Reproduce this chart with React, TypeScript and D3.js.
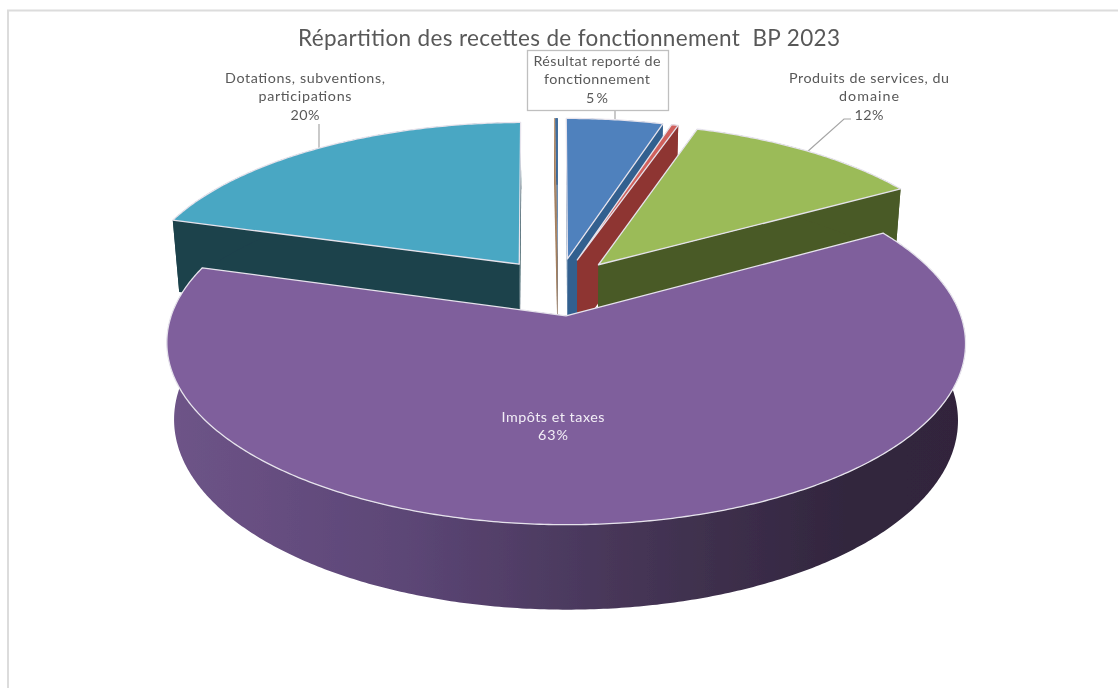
import React from "react";
import * as d3 from "d3";

const titleText = "Répartition des recettes de fonctionnement\u00a0\u00a0BP 2023";
const categories = ["Résultat reporté", "Autres produits", "Produits de services", "Impôts et taxes", "Dotations", "Atténuations", "Produits exceptionnels"];
const shares = [4.72, 0.33, 11.6, 62.9, 20.28, 0.05, 0.12];
const topColors = ["#4f81bd", "#d0605c", "#9bbb59", "#7f5f9c", "#4aa7c3", "#c9a27e", "#3f6c9c"];
const wallColors = ["#33608f", "#8e3633", "#4a5a27", "#4a3a60", "#1c424c", "#a5805f", "#2f5a88"];
const labelLines = [
  ["Résultat reporté de", "fonctionnement", "5%"],
  ["Produits de services, du", "domaine", "12%"],
  ["Impôts et taxes", "63%"],
  ["Dotations, subventions,", "participations", "20%"],
];

const W = 1118, H = 688;
const x0 = 558, y0 = 286.6, A = 385, B = 168.7, P = 0.147, E = 0.17, Q = 0.018, D = 76.2;
const TAU = Math.PI * 2;

const pieGen = d3.pie<number>().sort(null).value((d) => d).startAngle(0).endAngle(TAU);
const arcs = pieGen(shares);

function project(u: number, v: number, bottom: boolean): [number, number] {
  const w = 1 - P * v + (bottom ? Q : 0);
  return [x0 + (A * u) / w, y0 + (B * v + (bottom ? D : 0)) / w];
}
const closed = d3.line().curve(d3.curveLinearClosed);

function geometry(a: d3.PieArcDatum<number>) {
  const mid = (a.startAngle + a.endAngle) / 2;
  const cu = E * Math.sin(mid), cv = -E * Math.cos(mid);
  const n = Math.max(2, Math.ceil((a.endAngle - a.startAngle) / 0.01));
  const angles = d3.range(n + 1).map((i) => a.startAngle + ((a.endAngle - a.startAngle) * i) / n);
  const rimW = angles.map((t) => [cu + Math.sin(t), cv - Math.cos(t)] as [number, number]);
  const topRim = rimW.map(([u, v]) => project(u, v, false));
  const botRim = rimW.map(([u, v]) => project(u, v, true));
  const apexT = project(cu, cv, false), apexB = project(cu, cv, true);
  return {
    top: [apexT, ...topRim],
    rimWall: [...topRim, ...botRim.slice().reverse()],
    wallStart: [apexT, topRim[0], botRim[0], apexB],
    wallEnd: [apexT, topRim[n], botRim[n], apexB],
  };
}

const drawOrder = [6, 5, 4, 0, 1, 2, 3];

const gradientStops: [number, string][] = [
  [0, "#6e5488"],
  [0.3, "#5c4676"],
  [0.6, "#443454"],
  [0.85, "#32263e"],
  [1, "#30243b"],
];

const sans = "Lato, 'Open Sans', sans-serif";
const grey = "#595959";

function Label({ x, y, lines, size = 14.3, lh = 18.3, fill = grey, len }: { x: number; y: number; lines: string[]; size?: number; lh?: number; fill?: string; len?: number[] }) {
  return (
    <text x={x} y={y} textAnchor="middle" fontFamily={sans} fontSize={size} fill={fill}>
      {lines.map((l, i) => (
        <tspan key={l} x={x} y={y + i * lh} textLength={len ? len[i] : undefined} lengthAdjust="spacing">{l}</tspan>
      ))}
    </text>
  );
}

export default function App() {
  return (
    <svg width={W} height={H} viewBox={`0 0 ${W} ${H}`} style={{ position: "absolute", left: 0, top: 0, background: "#fff" }}>
      <defs>
        <linearGradient id="side" gradientUnits="userSpaceOnUse" x1={166} y1={0} x2={965} y2={0}>
          {gradientStops.map(([o, c]) => <stop key={o} offset={o} stopColor={c} />)}
        </linearGradient>
        <filter id="soft" x="-2%" y="-2%" width="104%" height="104%"><feGaussianBlur stdDeviation={0.55} /></filter>
      </defs>
      <g filter="url(#soft)">
        <path d="M8 688V10.5H1118" fill="none" stroke="#dcdcdc" strokeWidth={2} />
        <text x={569} y={46} textAnchor="middle" fontFamily={sans} fontSize={22.5} fill={grey} textLength={542} lengthAdjust="spacing">{titleText}</text>
        <path d="M319 124V150" fill="none" stroke="#a6a6a6" strokeWidth={1.2} />
        <path d="M807 152L844 119H851" fill="none" stroke="#a6a6a6" strokeWidth={1.2} />
        <path d="M615 110V122" fill="none" stroke="#a6a6a6" strokeWidth={1.2} />
        {drawOrder.map((i) => {
          const g = geometry(arcs[i]);
          const wall = wallColors[i];
          const isMain = categories[i] === "Impôts et taxes";
          return (
            <g key={categories[i]}>
              <path d={closed(g.wallStart as [number, number][])!} fill={wall} />
              <path d={closed(g.wallEnd as [number, number][])!} fill={wall} />
              <path d={closed(g.rimWall as [number, number][])!} fill={isMain ? "url(#side)" : wall} />
              <path d={closed(g.top as [number, number][])!} fill={topColors[i]} stroke="#e6e3ec" strokeWidth={i >= 5 ? 0 : 1.3} strokeLinejoin="round" />
            </g>
          );
        })}
        <rect x={527.5} y={50.5} width={141} height={60} fill="#fff" stroke="#bfbfbf" strokeWidth={1.3} />
        <Label x={597} y={66} lines={labelLines[0]} len={[127, 106, 22]} />
        <Label x={869} y={83} lines={labelLines[1]} len={[160, 60, 29]} />
        <Label x={305} y={83} lines={labelLines[3]} len={[160, 93, 29]} />
        <Label x={553} y={422} lines={labelLines[2]} fill="#f2eef6" len={[103, 30]} />
      </g>
    </svg>
  );
}
